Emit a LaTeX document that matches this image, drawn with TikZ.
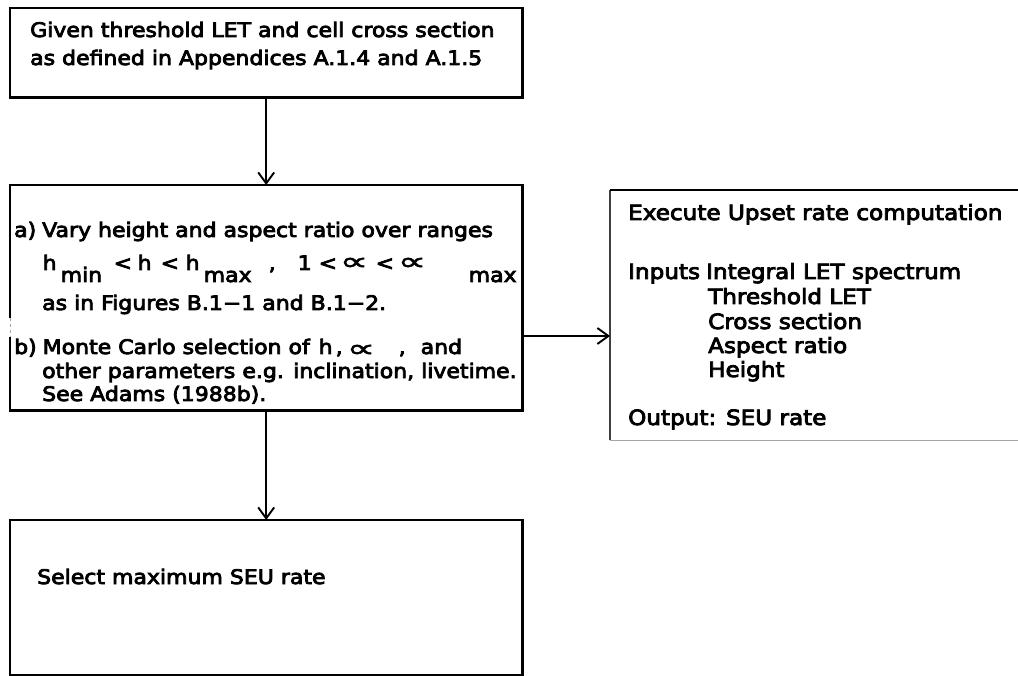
\documentclass[tikz,border=0pt]{standalone}
\usepackage{fontspec}
\setmainfont{DejaVu Sans}
\newfontfamily\plotfont{DejaVu Sans}[FakeStretch=1.1, FakeBold=4]
\newfontfamily\propfont{DejaVu Sans}[FakeBold=1.5]
\usetikzlibrary{arrows.meta}
\newcommand\putat[2]{\makebox[0pt][l]{\hspace*{#1pt}#2}}
\newcommand\lowered[2]{\raisebox{-#1pt}{#2}}
\newcommand\propsym{\scalebox{2.0}[1.25]{\propfont ∝}}
\begin{document}
\begin{tikzpicture}[x=1pt,y=-1pt,
  border/.style={line width=2.6pt, line join=miter},
  thinborder/.style={line width=1.4pt, draw=black!75},
  faintborder/.style={line width=0.8pt, draw=black!35},
  flowbox/.style={rectangle, draw=none, inner sep=0pt, anchor=north west},
  txt/.style={anchor=base west, inner sep=0pt, font=\plotfont\fontsize{20}{24}\selectfont},
  rtxt/.style={txt, font=\plotfont\fontsize{21}{25}\selectfont},
  arr/.style={line width=1.9pt, -{Straight Barb[length=11pt,width=16pt,line width=1.9pt]}}]
\fill[white] (0,0) rectangle (1018,676);
\useasboundingbox (0,0) rectangle (1018,676);

% boxes
\node[flowbox, minimum width=512pt, minimum height=89pt] (top) at (10,8) {};
\node[flowbox, minimum width=512pt, minimum height=225pt] (mid) at (10,185) {};
\node[flowbox, minimum width=512pt, minimum height=155pt] (bot) at (10,520) {};
\node[flowbox, minimum width=430pt, minimum height=250pt] (rb) at (610,190) {};

\coordinate (g1) at (0,318);
\coordinate (g2) at (0,337);

\draw[border] (top.north west) rectangle (top.south east);
\draw[border] (mid.west |- g2) -- (mid.south west) -- (mid.south east)
  -- (mid.north east) -- (mid.north west) -- (mid.west |- g1);
\draw[faintborder, dashed] (mid.west |- g1) -- (mid.west |- g2);
\draw[border] (bot.north west) rectangle (bot.south east);
\draw[faintborder] (rb.south west) -- (rb.south east);
\draw[thinborder] (rb.south west) -- (rb.north west);
\draw[border] (rb.north west) -- (rb.north east);

% top box text
\node[txt] (t1) at (30,37) {Given threshold LET and cell cross section};
\node[txt] (t2) at (30,65) {as defined in Appendices A.1.4 and A.1.5};

% middle box text
\node[txt] (ma) at (14,237) {a)};
\node[txt] (m1) at (42,237) {Vary height and aspect ratio over ranges};
\node[txt] (m2) at (42,270) {\putat{0}{h}\putat{18}{\lowered{12}{min}}\putat{71}{<}\putat{95}{h}\putat{118}{<}\putat{143}{h}\putat{161}{\lowered{12}{max}}\putat{226}{,}\putat{255}{1}\putat{276}{<}\putat{297}{\propsym}\putat{333}{<}\putat{355}{\propsym}\putat{426}{\lowered{12}{max}}};
\node[txt] (m3) at (42,310) {as in Figures B.1−1 and B.1−2.};
\node[txt] (mb) at (14,354) {b)};
\node[txt] (m4) at (42,354) {\putat{0}{Monte Carlo selection of}\putat{276}{h}\putat{293}{,}\putat{304}{\lowered{3}{\propsym}}\putat{356}{,}\putat{378}{and}};
\node[txt] (m5) at (42,378) {other parameters e.g. inclination, livetime.};
\node[txt] (m6) at (42,401) {See Adams (1988b).};

% right box text
\node[rtxt] (r1) at (628,220) {Execute Upset rate computation};
\node[rtxt] (r2) at (628,279) {Inputs};
\node[rtxt] (r3) at (706,279) {Integral LET spectrum};
\node[rtxt] (r4) at (708,304) {Threshold LET};
\node[rtxt] (r5) at (708,329) {Cross section};
\node[rtxt] (r6) at (708,353) {Aspect ratio};
\node[rtxt] (r7) at (708,377) {Height};
\node[rtxt] (r8) at (628,425) {Output: SEU rate};

% bottom box text
\node[txt] (b1) at (37,584) {Select maximum SEU rate};

% connectors
\coordinate (ay) at (0,336);
\draw[arr] (top.south) -- (mid.north);
\draw[arr] (mid.south) -- (bot.north);
\draw[arr] (mid.east |- ay) -- (rb.west |- ay);
\end{tikzpicture}
\end{document}
